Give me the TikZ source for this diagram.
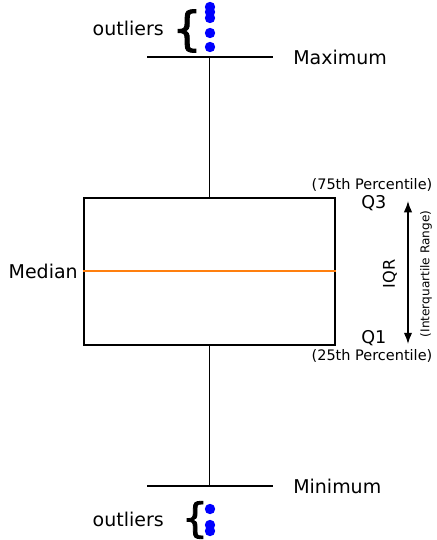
\documentclass[tikz,border=0pt]{standalone}
\usepackage{fontspec}
\setmainfont{DejaVu Sans}
\newfontfamily\bracefont[FakeBold=2]{DejaVu Sans}
\usetikzlibrary{arrows.meta}
\usetikzlibrary{positioning}
\definecolor{medorange}{RGB}{255,127,14}
\definecolor{outblue}{RGB}{0,0,255}
\tikzstyle{iqrbox} = [rectangle, draw, line width=0.9pt, inner sep=0pt,
minimum width=6.275cm, minimum height=3.675cm]
\tikzstyle{whisker} = [draw, line width=0.9pt]
\tikzstyle{lbl} = [inner sep=0pt, font=\fontsize{13.5}{16}\selectfont]
\tikzstyle{small} = [inner sep=0pt, font=\fontsize{10.3}{12}\selectfont]
\tikzstyle{brace} = [inner sep=0pt, font=\bracefont\fontsize{33}{33}\selectfont]
\tikzstyle{outdot} = [circle, fill=outblue, inner sep=0pt, minimum size=0.26cm]
\tikzstyle{line} = [draw, line width=1pt, {Latex[length=8pt,width=6pt]}-{Latex[length=8pt,width=6pt]}]

\begin{document}
\begin{tikzpicture}[x=0.025cm, y=-0.025cm]
	\useasboundingbox (0,0) rectangle (436,540);
	
	\node [iqrbox] (box) at (209.5,271.5) {};
	\coordinate (maxc) at (209.5,57);
	\coordinate (minc) at (209.5,486);
	
	% Draw whiskers and caps
	\path [whisker] (box.north) -- (maxc);
	\path [whisker] (box.south) -- (minc);
	\path [whisker] ([xshift=-1.55cm]maxc) -- ([xshift=1.575cm]maxc);
	\path [whisker] ([xshift=-1.55cm]minc) -- ([xshift=1.575cm]minc);
	\draw [medorange, line width=0.9pt] (box.west |- 0,271) -- (box.east |- 0,271);
	
	% Labels
	\node [lbl, anchor=west] (max) at (293,57) {Maximum};
	\node [lbl, anchor=west] (min) at (293,486) {Minimum};
	\node [lbl, anchor=east] (med) at (78,271) {Median};
	\node [lbl, font=\fontsize{12.5}{15}\selectfont, anchor=west] (q3) at (361,203) {Q3};
	\node [lbl, font=\fontsize{12.5}{15}\selectfont, anchor=west] (q1) at (361,338) {Q1};
	\node [small] (p75) at (372,185) {(75th Percentile)};
	\node [small] (p25) at (372,356) {(25th Percentile)};
	\node [inner sep=0pt, rotate=90, font=\fontsize{11.5}{13}\selectfont] (iqr) at (390,274) {IQR};
	\node [inner sep=0pt, rotate=90, font=\fontsize{8.6}{10}\selectfont] (iqrtext) at (426,274) {(Interquartile Range)};
	\coordinate (iqrtop) at (408,201);
	\coordinate (iqrbot) at (408,344);
	\path [line] (iqrtop) -- (iqrbot);
	
	% Outliers
	\node [lbl, anchor=east] (outtop) at (164,28) {outliers};
	\node [brace] (bracetop) at (187,31) {\{};
	\node [outdot] (o1) at (210,7) {};
	\node [outdot] (o2) at (210,12) {};
	\node [outdot] (o3) at (210,18) {};
	\node [outdot] (o4) at (210,33) {};
	\node [outdot] (o5) at (210,47) {};
	
	\node [lbl, anchor=east] (outbot) at (164,519) {outliers};
	\node [brace, font=\bracefont\fontsize{29}{29}\selectfont] (bracebot) at (195,520) {\{};
	\node [outdot] (o6) at (210,509) {};
	\node [outdot] (o7) at (210,525) {};
	\node [outdot] (o8) at (210,531) {};
	
\end{tikzpicture}
\end{document}
